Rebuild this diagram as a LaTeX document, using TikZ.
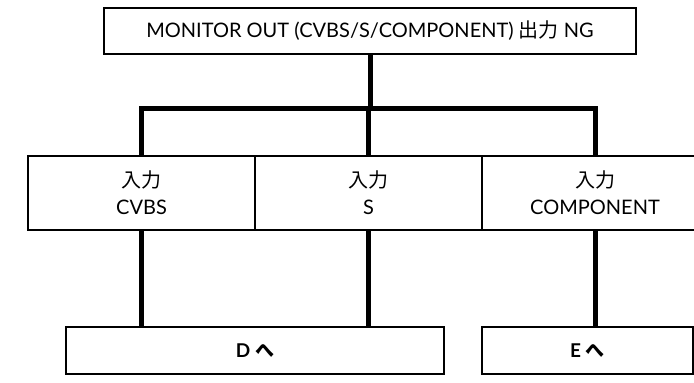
\documentclass[tikz,border=0pt]{standalone}
\usepackage{fontspec}
\setmainfont{Lato}
\newfontfamily\jp{Noto Sans CJK JP}
\begin{document}
\begin{tikzpicture}[x=1pt,y=-1pt,
  box/.style={draw=black,line width=1.6pt,rectangle,inner sep=0pt,align=center,font=\fontsize{20}{27}\selectfont},
  conn/.style={draw=black,line width=5pt}]
\useasboundingbox[fill=white] (0,0) rectangle (694,383);
\node[box,minimum width=532,minimum height=46] (top) at (370,31) {MONITOR OUT (CVBS/S/COMPONENT) {\jp 出力} NG};
\node[box,minimum width=227,minimum height=74] (cvbs) at (141.5,193) {{\jp 入力}\\CVBS};
\node[box,minimum width=227,minimum height=74] (s) at (368.5,193) {{\jp 入力}\\S};
\node[box,minimum width=226,minimum height=74] (comp) at (595,193) {{\jp 入力}\\COMPONENT};
\node[box,minimum width=378,minimum height=47,font=\fontsize{19}{22}\selectfont\bfseries] (D) at (255,350.5) {D {\jp\bfseries へ}};
\node[box,minimum width=211,minimum height=47,font=\fontsize{19}{22}\selectfont\bfseries] (E) at (587.5,350.5) {E {\jp\bfseries へ}};
\coordinate (jn) at (370,108);
\draw[conn] (top.south) -- (jn);
\draw[conn] (cvbs.north) -- (cvbs.north |- jn) -- (comp.north |- jn) -- (comp.north);
\draw[conn] (s.north) -- (s.north |- jn);
\draw[conn] (cvbs.south) -- (cvbs.south |- D.north);
\draw[conn] (s.south) -- (s.south |- D.north);
\draw[conn] (comp.south) -- (comp.south |- E.north);
\end{tikzpicture}
\end{document}
